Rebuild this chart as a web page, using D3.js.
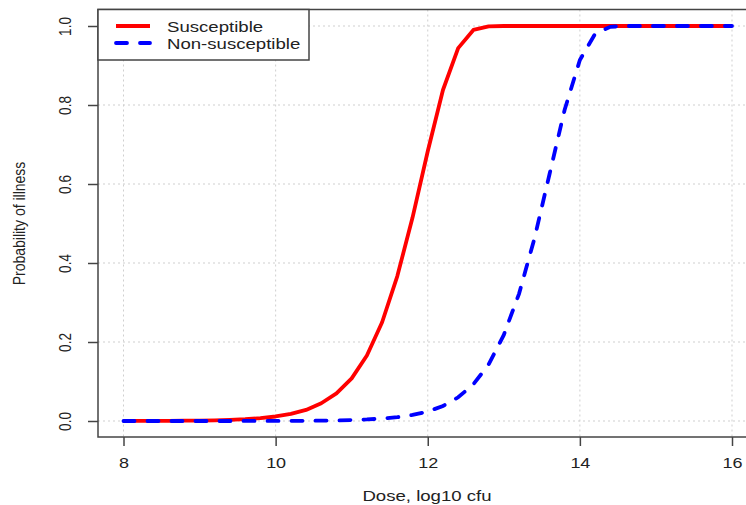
<!DOCTYPE html>
<html>
<head>
<meta charset="utf-8">
<script src="https://cdn.jsdelivr.net/npm/d3@7"></script>
<style>
  body { margin: 0; background: #fff; }
  text { font-family: "Liberation Sans", Arial, sans-serif; fill: #222; }
</style>
</head>
<body>
<div id="chart"></div>
<script>
// dose grid, log10 cfu
const dose = [8.0, 8.2, 8.4, 8.6, 8.8, 9.0, 9.2, 9.4, 9.6, 9.8,
  10.0, 10.2, 10.4, 10.6, 10.8, 11.0, 11.2, 11.4, 11.6, 11.8,
  12.0, 12.2, 12.4, 12.6, 12.8, 13.0, 13.2, 13.4, 13.6, 13.8,
  14.0, 14.2, 14.4, 14.6, 14.8, 15.0, 15.2, 15.4, 15.6, 15.8, 16.0];

// probability of illness
const susceptible = [0.0001, 0.0002, 0.0003, 0.0005, 0.0007, 0.0011, 0.0018, 0.0029, 0.0046, 0.0072,
  0.0114, 0.018, 0.028, 0.045, 0.070, 0.108, 0.166, 0.250, 0.367, 0.515,
  0.683, 0.838, 0.944, 0.990, 0.999, 1, 1, 1, 1, 1,
  1, 1, 1, 1, 1, 1, 1, 1, 1, 1, 1];

const nonSusceptible = [0, 0, 0, 0, 0, 0, 0, 0, 0.0001, 0.0002,
  0.0002, 0.0004, 0.0006, 0.0010, 0.0015, 0.0025, 0.0039, 0.0062, 0.0097, 0.0154,
  0.024, 0.038, 0.060, 0.093, 0.143, 0.218, 0.322, 0.460, 0.624, 0.788,
  0.914, 0.980, 0.998, 1, 1, 1, 1, 1, 1, 1, 1];

const xTicks = [8, 10, 12, 14, 16];
const yTicks = [0, 0.2, 0.4, 0.6, 0.8, 1.0];
const seriesNames = ["Susceptible", "Non-susceptible"];

const width = 746, height = 505;
const box = { left: 98, top: 9.5, right: 756, bottom: 437 };
const stretch = "scale(1.2,1)";

const x = d3.scaleLinear().domain([8, 16]).range([123.5, 732]);
const y = d3.scaleLinear().domain([0, 1]).range([421, 26]);

const svg = d3.select("#chart").append("svg")
  .attr("width", width)
  .attr("height", height);

svg.append("rect").attr("width", width).attr("height", height).attr("fill", "#fff");

// grid
const grid = svg.append("g")
  .attr("stroke", "#cfcfcf")
  .attr("stroke-width", 1)
  .attr("stroke-dasharray", "2,3");

grid.selectAll("line.v").data(xTicks).join("line")
  .attr("class", "v")
  .attr("x1", d => x(d)).attr("x2", d => x(d))
  .attr("y1", box.top).attr("y2", box.bottom);

grid.selectAll("line.h").data(yTicks).join("line")
  .attr("class", "h")
  .attr("y1", d => y(d)).attr("y2", d => y(d))
  .attr("x1", box.left).attr("x2", box.right);

// lines
const line = d3.line()
  .x((d, i) => x(dose[i]))
  .y(d => y(d));

svg.append("path")
  .datum(susceptible)
  .attr("d", line)
  .attr("fill", "none")
  .attr("stroke", "#ff0000")
  .attr("stroke-width", 3.8)
  .attr("stroke-linejoin", "round");

svg.append("path")
  .datum(nonSusceptible)
  .attr("d", line)
  .attr("fill", "none")
  .attr("stroke", "#0000ff")
  .attr("stroke-width", 3.8)
  .attr("stroke-dasharray", "11,13")
  .attr("stroke-linecap", "round");

// axes
const xAxis = svg.append("g")
  .attr("transform", `translate(0,${box.bottom})`)
  .call(d3.axisBottom(x).tickValues(xTicks).tickSize(9).tickSizeOuter(0).tickFormat(d3.format("d")));
xAxis.select(".domain").remove();
xAxis.selectAll(".tick line").attr("stroke", "#444").attr("stroke-width", 1.5);
xAxis.selectAll(".tick text")
  .attr("y", null).attr("dy", null)
  .attr("font-size", 15)
  .attr("transform", `translate(0,31) ${stretch}`)
  .attr("fill", "#222");

const yAxis = svg.append("g")
  .attr("transform", `translate(${box.left},0)`)
  .call(d3.axisLeft(y).tickValues(yTicks).tickSize(10).tickSizeOuter(0).tickFormat(d3.format(".1f")));
yAxis.select(".domain").remove();
yAxis.selectAll(".tick line").attr("stroke", "#444").attr("stroke-width", 1.5);
yAxis.selectAll(".tick text")
  .attr("x", null).attr("dy", null)
  .attr("font-size", 13.5)
  .attr("text-anchor", "middle")
  .attr("transform", `translate(-27,0) ${stretch} rotate(-90)`)
  .attr("fill", "#222");

// plot frame
svg.append("rect")
  .attr("x", box.left).attr("y", box.top)
  .attr("width", box.right - box.left).attr("height", box.bottom - box.top)
  .attr("fill", "none")
  .attr("stroke", "#444")
  .attr("stroke-width", 1.5);

// axis titles
svg.append("text")
  .attr("transform", `translate(427,501) ${stretch}`)
  .attr("text-anchor", "middle")
  .attr("font-size", 15.5)
  .text("Dose, log10 cfu");

svg.append("text")
  .attr("transform", `translate(25,223.5) ${stretch} rotate(-90)`)
  .attr("text-anchor", "middle")
  .attr("font-size", 14)
  .text("Probability of illness");

// legend
const legend = svg.append("g");
legend.append("rect")
  .attr("x", box.left).attr("y", box.top)
  .attr("width", 211).attr("height", 50.5)
  .attr("fill", "#fff")
  .attr("stroke", "#444")
  .attr("stroke-width", 1.5);

const legendRows = [
  { name: seriesNames[0], color: "#ff0000", dash: null, y: 26 },
  { name: seriesNames[1], color: "#0000ff", dash: "11,13", y: 43 }
];

legendRows.forEach(r => {
  legend.append("line")
    .attr("x1", 116).attr("x2", 150)
    .attr("y1", r.y).attr("y2", r.y)
    .attr("stroke", r.color)
    .attr("stroke-width", 3.8)
    .attr("stroke-dasharray", r.dash)
    .attr("stroke-linecap", r.dash ? "round" : "butt");
  legend.append("text")
    .attr("transform", `translate(167,${r.y + 5.5}) ${stretch}`)
    .attr("font-size", 15.5)
    .text(r.name);
});
</script>
</body>
</html>
